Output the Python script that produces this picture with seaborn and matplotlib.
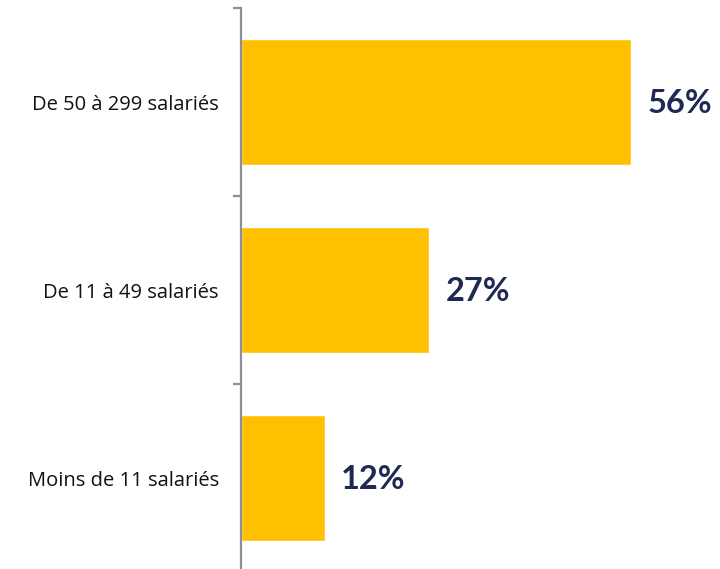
import matplotlib
matplotlib.use("Agg")
import matplotlib.pyplot as plt
import seaborn as sns
import pandas as pd

categories = ["De 50 à 299 salariés", "De 11 à 49 salariés", "Moins de 11 salariés"]
values = [56, 27, 12]
value_labels = ["56%", "27%", "12%"]

sns.set_theme(style="white")
plt.rcParams['font.family'] = ['Lato', 'DejaVu Sans']

df = pd.DataFrame({"cat": categories, "val": values})

fig = plt.figure(figsize=(7.2, 5.69), dpi=100)
ax = fig.add_axes([241/720, -3/569, (720-241)/720, 564/569])
sns.barplot(data=df, y="cat", x="val", orient="h", color="#FFC000",
            saturation=1, width=0.665, ax=ax)

ax.set_xlim(0, 479/6.96)
ax.set_ylim(2.5, -0.5)
ax.set_xlabel("")
ax.set_ylabel("")
ax.set_xticks([])
for s in ["top", "right", "bottom"]:
    ax.spines[s].set_visible(False)
ax.spines["left"].set_color("#8E8E96")
ax.spines["left"].set_linewidth(1.6)

ax.set_yticks([-0.5, 0.5, 1.5, 2.5])
ax.set_yticklabels([])
ax.tick_params(axis="y", which="major", length=5.5, width=1.6, color="#8E8E96", left=True)
ax.set_yticks([0, 1, 2], minor=True)
ax.set_yticklabels(categories, minor=True, fontsize=14.5, color="#111111",
                   family=['Open Sans', 'DejaVu Sans'])
ax.tick_params(axis="y", which="minor", length=0, pad=16)

for i, (v, lab) in enumerate(zip(values, value_labels)):
    ax.annotate(lab, xy=(v, i), xytext=(12, -1), textcoords="offset points",
                ha="left", va="center", fontsize=23.5, fontweight="bold", color="#1F2A52")

fig.savefig("out.png", dpi=100)
